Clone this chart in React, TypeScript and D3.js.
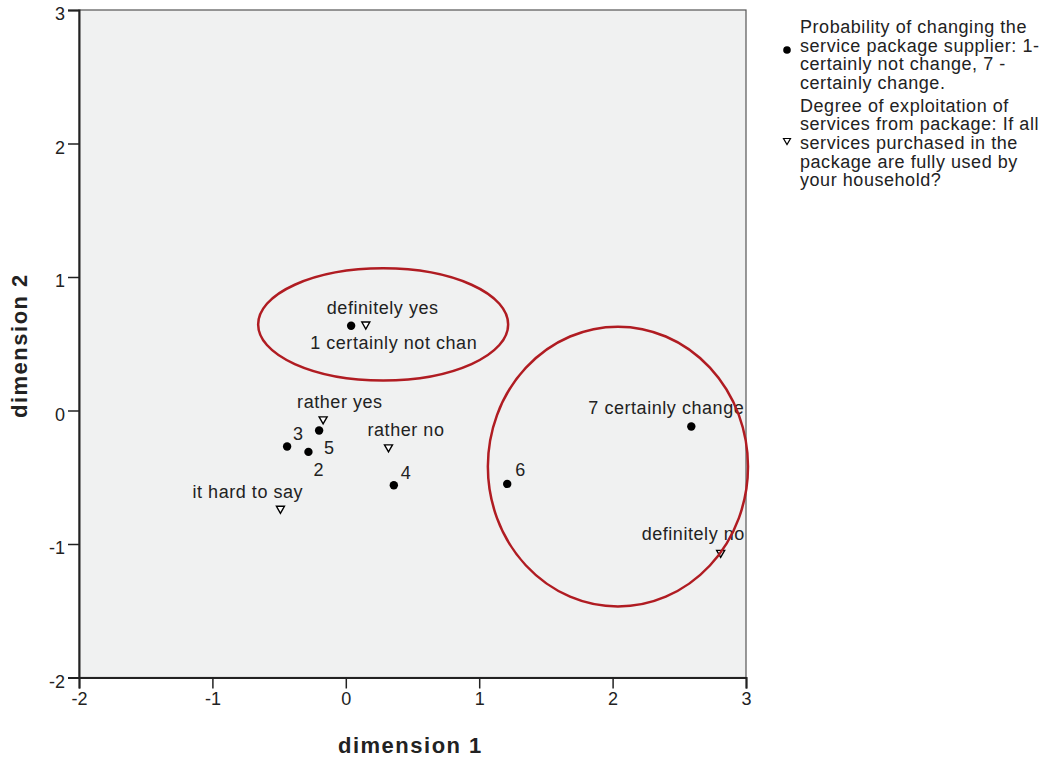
import React, { useEffect, useRef } from 'react';
import * as d3 from 'd3';

// category quantifications, dimension 1 / dimension 2
const probLabels = ['1 certainly not chan', '2', '3', '4', '5', '6', '7 certainly change'];
const probDim1 = [0.04, -0.28, -0.44, 0.36, -0.2, 1.21, 2.59];
const probDim2 = [0.635, -0.31, -0.27, -0.56, -0.15, -0.55, -0.12];

const usageLabels = ['definitely yes', 'rather yes', 'rather no', 'it hard to say', 'definitely no'];
const usageDim1 = [0.15, -0.17, 0.32, -0.49, 2.81];
const usageDim2 = [0.64, -0.07, -0.28, -0.74, -1.07];

// where each point label sits relative to its marker (px)
const probNudge = [[-41, 23], [5, 24], [6, -7], [7, -6], [5, 23], [8, -8], [-103, -13]];
const usageNudge = [[-39, -11], [-26, -12], [-21, -12], [-88, -11], [-79, -13]];

const xTicks = [-2, -1, 0, 1, 2, 3];
const yTicks = [-2, -1, 0, 1, 2, 3];

const legendProb = [
  'Probability of changing the',
  'service package supplier: 1-',
  'certainly not change, 7 -',
  'certainly change.',
];
const legendUsage = [
  'Degree of exploitation of',
  'services from package: If all',
  'services purchased in the',
  'package are fully used by',
  'your household?',
];

// hand-drawn highlight ellipses: centre x, centre y, radius x, radius y (data units)
const ellipseCx = [0.28, 2.04];
const ellipseCy = [0.645, -0.42];
const ellipseRx = [0.937, 0.975];
const ellipseRy = [0.42, 1.048];

const App = () => {
  const svgRef = useRef(null);

  useEffect(() => {
    const svg = d3.select(svgRef.current);
    svg.selectAll('*').remove();

    const margin = { top: 10, left: 79 };
    const width = 667;
    const height = 667.5;
    const font = 'Arial, "Liberation Sans", sans-serif';
    const narrow = '"Liberation Sans Narrow", "Arial Narrow", Arial, sans-serif';

    const x = d3.scaleLinear().domain([-2, 3]).range([0, width]);
    const y = d3.scaleLinear().domain([-2, 3]).range([height, 0]);

    const g = svg.append('g').attr('transform', `translate(${margin.left},${margin.top})`);

    g.append('rect')
      .attr('width', width)
      .attr('height', height)
      .attr('fill', '#f0f1f1')
      .attr('stroke', '#555')
      .attr('stroke-width', 1.2);

    svg.append('defs')
      .append('clipPath')
      .attr('id', 'plotClip')
      .append('rect')
      .attr('width', width)
      .attr('height', height);

    // axes
    const xAxis = g.append('g')
      .attr('transform', `translate(0,${height})`)
      .call(d3.axisBottom(x).tickValues(xTicks).tickSize(11).tickPadding(4).tickFormat((d) => String(d)));
    const yAxis = g.append('g')
      .call(d3.axisLeft(y).tickValues(yTicks).tickSize(11).tickPadding(3).tickFormat((d) => String(d)));
    [xAxis, yAxis].forEach((a) => {
      a.attr('font-family', narrow).attr('font-size', 18);
      a.select('.domain').attr('stroke', '#222').attr('stroke-width', 2);
      a.selectAll('.tick line').attr('stroke', '#222').attr('stroke-width', 1.5);
      a.selectAll('.tick text').attr('fill', '#222');
    });
    xAxis.selectAll('.tick text').attr('dy', '0.72em');
    yAxis.selectAll('.tick text').attr('dy', '0.55em');

    svg.append('text')
      .attr('x', 338)
      .attr('y', 753)
      .attr('font-family', font)
      .attr('font-weight', 'bold')
      .attr('font-size', 22)
      .attr('letter-spacing', 1.5)
      .attr('fill', '#222')
      .text('dimension 1');

    svg.append('text')
      .attr('transform', `translate(27,418) rotate(-90)`)
      .attr('font-family', font)
      .attr('font-weight', 'bold')
      .attr('font-size', 22)
      .attr('letter-spacing', 1.5)
      .attr('fill', '#222')
      .text('dimension 2');

    const labels = g.append('g').attr('clip-path', 'url(#plotClip)');

    const drawLabels = (names, dx, dy, nudge) => {
      labels.selectAll(null)
        .data(names)
        .enter()
        .append('text')
        .attr('x', (d, i) => x(dx[i]) + nudge[i][0])
        .attr('y', (d, i) => y(dy[i]) + nudge[i][1])
        .attr('font-family', font)
        .attr('font-size', 18)
        .attr('letter-spacing', 0.55)
        .attr('fill', '#222')
        .text((d) => d);
    };
    drawLabels(probLabels, probDim1, probDim2, probNudge);
    drawLabels(usageLabels, usageDim1, usageDim2, usageNudge);

    const triangle = 'M-4,-3L4,-3L0,4Z';

    g.selectAll('circle.prob')
      .data(probDim1)
      .enter()
      .append('circle')
      .attr('class', 'prob')
      .attr('cx', (d) => x(d))
      .attr('cy', (d, i) => y(probDim2[i]))
      .attr('r', 4.2)
      .attr('fill', '#000');

    g.selectAll('path.usage')
      .data(usageDim1)
      .enter()
      .append('path')
      .attr('class', 'usage')
      .attr('d', triangle)
      .attr('transform', (d, i) => `translate(${x(d)},${y(usageDim2[i])})`)
      .attr('fill', '#fff')
      .attr('stroke', '#000')
      .attr('stroke-width', 1.4);

    // highlight ellipses
    g.selectAll('ellipse')
      .data(ellipseCx)
      .enter()
      .append('ellipse')
      .attr('cx', (d) => x(d))
      .attr('cy', (d, i) => y(ellipseCy[i]))
      .attr('rx', (d, i) => x(ellipseRx[i]) - x(0))
      .attr('ry', (d, i) => y(0) - y(ellipseRy[i]))
      .attr('fill', 'none')
      .attr('stroke', '#b01c22')
      .attr('stroke-width', 2.5);

    // legend
    const legend = svg.append('g')
      .attr('font-family', font)
      .attr('font-size', 18)
      .attr('letter-spacing', 0.55)
      .attr('fill', '#222');
    const lineH = 18.7;
    legend.selectAll('text.lp')
      .data(legendProb)
      .enter()
      .append('text')
      .attr('class', 'lp')
      .attr('x', 800)
      .attr('y', (d, i) => 33 + i * lineH)
      .text((d) => d);
    legend.selectAll('text.lu')
      .data(legendUsage)
      .enter()
      .append('text')
      .attr('class', 'lu')
      .attr('x', 800)
      .attr('y', (d, i) => 111.5 + i * lineH)
      .text((d) => d);
    legend.append('circle').attr('cx', 787).attr('cy', 50).attr('r', 3.8).attr('fill', '#000');
    legend.append('path')
      .attr('d', 'M-3.5,-2.5L3.5,-2.5L0,3.5Z')
      .attr('transform', 'translate(787,141)')
      .attr('fill', '#fff')
      .attr('stroke', '#000')
      .attr('stroke-width', 1.2);
  }, []);

  return (
    <svg
      ref={svgRef}
      width={1044}
      height={758}
      style={{ position: 'absolute', left: 0, top: 0, background: '#fff' }}
    ></svg>
  );
};

export default App;
